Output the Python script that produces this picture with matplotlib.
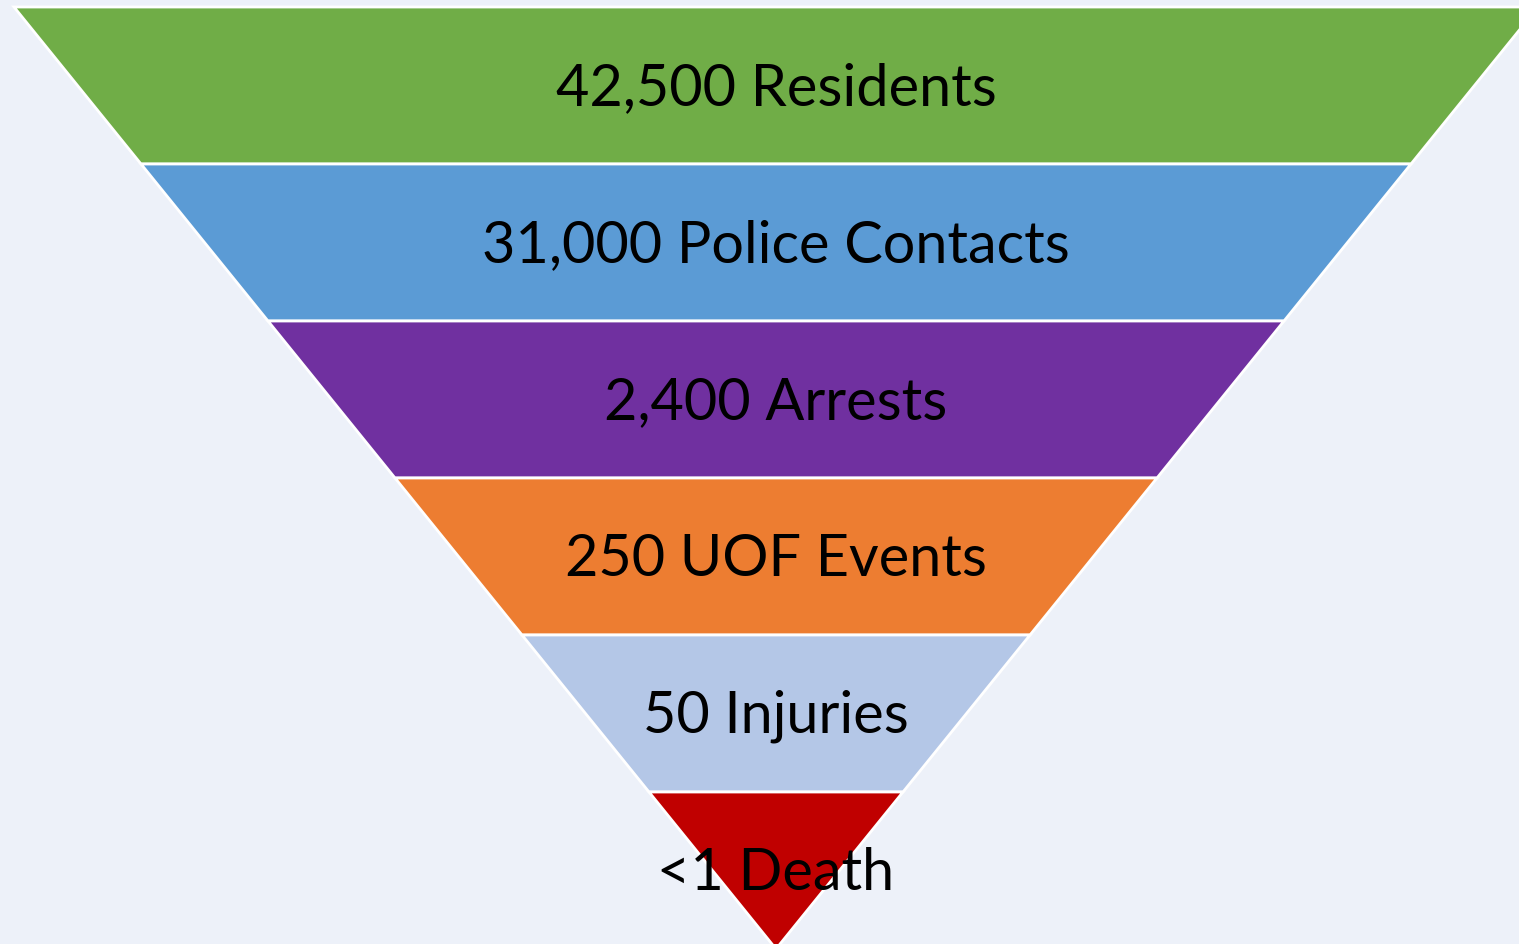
import matplotlib.pyplot as plt
from matplotlib.patches import Polygon

# funnel stages, top to bottom
labels = ['42,500 Residents', '31,000 Police Contacts', '2,400 Arrests',
          '250 UOF Events', '50 Injuries', '<1 Death']
colors = ['#70AD47', '#5B9BD5', '#7030A0', '#ED7D31', '#B4C7E7', '#C00000']

W, H = 1519, 944
fig = plt.figure(figsize=(W / 100, H / 100), dpi=100)
fig.patch.set_facecolor('#EDF1F9')
ax = fig.add_axes([0, 0, 1, 1])
ax.set_facecolor('#EDF1F9')

n = len(labels)
unit = 157                  # pixel height of one layer
top_px = 7                  # funnel top, pixels from top
slope = 127 / unit          # half-width per layer unit
apex_x = 776 / unit
ax.set_xlim(0, W / unit)
ax.set_ylim(n - (H - top_px) / unit, n + top_px / unit)
ax.axis('off')

for i, (lab, col) in enumerate(zip(labels, colors)):
    top = n - i
    bot = n - i - 1
    verts = [(apex_x - slope * top, top), (apex_x + slope * top, top),
             (apex_x + slope * bot, bot), (apex_x - slope * bot, bot)]
    ax.add_patch(Polygon(verts, closed=True, facecolor=col,
                         edgecolor='white', linewidth=2))
    ax.text(apex_x, bot + 0.48, lab, ha='center', va='center',
            fontsize=41.5, family=['Lato', 'DejaVu Sans'], color='black')

fig.savefig('out.png', dpi=100, facecolor=fig.get_facecolor())
